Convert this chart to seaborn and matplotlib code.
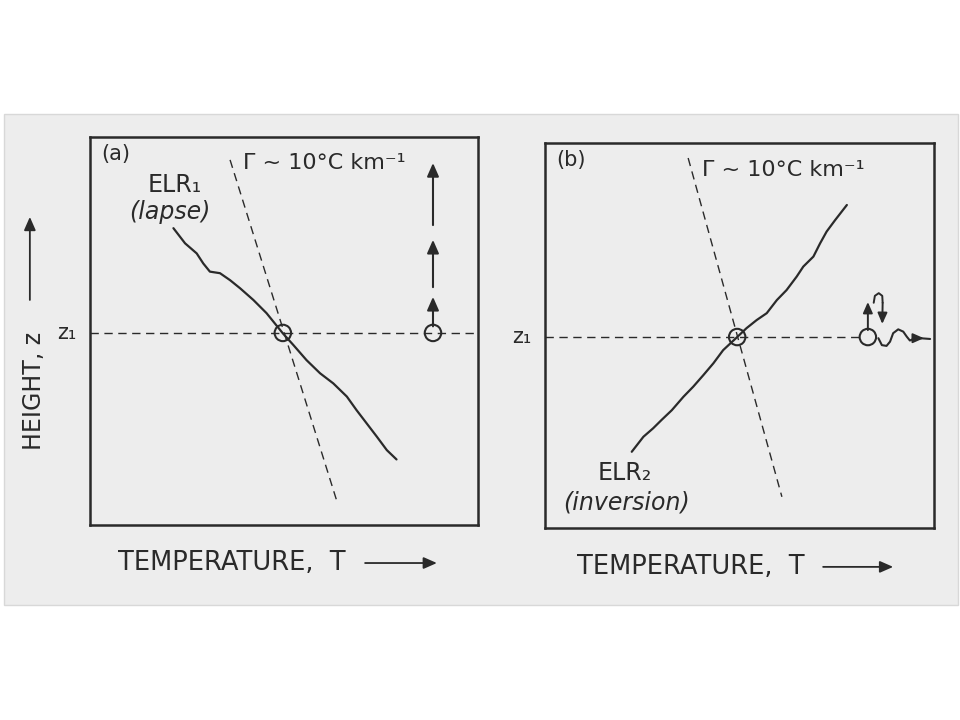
import numpy as np
import pandas as pd
import matplotlib
matplotlib.use("Agg")
import matplotlib.pyplot as plt
from matplotlib.patches import Rectangle
import seaborn as sns

# ------------------------
# Data (arbitrary units: T and z scaled 0..1 inside each box)
# ------------------------
# panel (a) : lapse profile ELR1
elr1_t = [0.215, 0.245, 0.275, 0.292, 0.309, 0.335, 0.361, 0.387, 0.421, 0.455, 0.497,
          0.524, 0.558, 0.593, 0.627, 0.662, 0.687, 0.713, 0.739, 0.765, 0.790]
elr1_z = [0.765, 0.726, 0.700, 0.674, 0.653, 0.649, 0.631, 0.610, 0.580, 0.546, 0.494,
          0.464, 0.425, 0.391, 0.365, 0.331, 0.296, 0.262, 0.228, 0.193, 0.169]
# panel (b) : inversion profile ELR2
elr2_t = [0.223, 0.253, 0.278, 0.300, 0.326, 0.356, 0.381, 0.407, 0.433, 0.458, 0.493, 0.518,
          0.544, 0.570, 0.596, 0.621, 0.647, 0.664, 0.690, 0.707, 0.724, 0.746, 0.776]
elr2_z = [0.198, 0.237, 0.259, 0.281, 0.306, 0.341, 0.367, 0.397, 0.428, 0.462, 0.495, 0.519,
          0.540, 0.558, 0.592, 0.618, 0.653, 0.679, 0.705, 0.739, 0.770, 0.800, 0.839]

# dry adiabat  (Gamma ~ 10 C/km)
adiab_a_t = [0.361, 0.637]
adiab_a_z = [0.941, 0.059]
adiab_b_t = [0.368, 0.609]
adiab_b_z = [0.961, 0.081]

z1_a = 0.495
z1_b = 0.496
parcel_a_t = [0.497, 0.884]
parcel_b_t = [0.494, 0.830]

# rising parcel in (a): accelerating arrows
rise_a_start = [0.512, 0.613, 0.773]
rise_a_end = [0.588, 0.735, 0.933]

# (b): parcel pushed up then back, oscillating
push_b = [0.514, 0.587]
hook_t = [0.845, 0.848, 0.858, 0.867, 0.868, 0.867]
hook_z = [0.585, 0.603, 0.610, 0.603, 0.585, 0.530]
wave_t = [0.857, 0.866, 0.878, 0.887, 0.895, 0.908, 0.921, 0.930, 0.938, 0.951, 0.964, 0.990]
wave_z = [0.493, 0.475, 0.473, 0.484, 0.506, 0.516, 0.510, 0.497, 0.487, 0.493, 0.493, 0.491]

gamma_txt = "Γ ~ 10°C km⁻¹"

# ------------------------
# Style
# ------------------------
sns.set_theme(style="white")
plt.rcParams["font.family"] = ["DejaVu Sans"]
ink = "#2a2a2a"
paper = "#ededed"

fig = plt.figure(figsize=(9.6, 7.2), dpi=100)
fig.patch.set_facecolor("white")
fig.patches.append(Rectangle((0.004, 1 - 605 / 720), 0.994, (605 - 114) / 720,
                             transform=fig.transFigure, facecolor=paper,
                             edgecolor="#d8d8d8", lw=1, zorder=-10))

ax_a = fig.add_axes([90 / 960, 1 - 525 / 720, 388 / 960, 388 / 720])
ax_b = fig.add_axes([545 / 960, 1 - 528 / 720, 389 / 960, 385 / 720])


def arrow(ax, x0, y0, x1, y1, lw=1.5, ms=12):
    ax.annotate("", xy=(x1, y1), xytext=(x0, y0),
                arrowprops=dict(arrowstyle="-|>,head_length=0.5,head_width=0.22",
                                color=ink, lw=lw, mutation_scale=ms,
                                shrinkA=0, shrinkB=0),
                annotation_clip=False)


def setup(ax, tag, z1, t_adiab, z_adiab, gx, gy):
    ax.set_facecolor(paper)
    ax.set_xlim(0, 1)
    ax.set_ylim(0, 1)
    ax.set_xticks([])
    ax.set_yticks([])
    for s in ax.spines.values():
        s.set_color(ink)
        s.set_linewidth(1.8)
    sns.lineplot(x=t_adiab, y=z_adiab, ax=ax, color=ink, lw=1.0,
                 linestyle=(0, (6, 4)), sort=False, estimator=None)
    ax.text(0.03, 0.955, tag, fontsize=15, color=ink, va="center", ha="left")
    ax.text(gx, gy, gamma_txt, fontsize=16, color=ink, va="center", ha="left")
    ax.text(-0.035, z1, "z₁", fontsize=15, color=ink, va="center", ha="right")


# ------------------------
# (a) lapse
# ------------------------
setup(ax_a, "(a)", z1_a, adiab_a_t, adiab_a_z, 0.394, 0.933)
ax_a.plot([0, 1], [z1_a, z1_a], color=ink, lw=1.0, dashes=(6, 4))
sns.lineplot(x=elr1_t, y=elr1_z, ax=ax_a, color=ink, lw=1.6, sort=False, estimator=None)
sns.scatterplot(x=parcel_a_t, y=[z1_a] * 2, ax=ax_a, s=140, marker="o",
                facecolor="none", edgecolor=ink, linewidth=1.5, zorder=5)
for y0, y1 in zip(rise_a_start, rise_a_end):
    arrow(ax_a, parcel_a_t[1], y0, parcel_a_t[1], y1, ms=16)
ax_a.text(0.149, 0.877, "ELR₁", fontsize=17, color=ink, va="center", ha="left")
ax_a.text(0.102, 0.806, "(lapse)", fontsize=17, color=ink, va="center", ha="left",
          style="italic")
ax_a.text(0.072, -0.098, "TEMPERATURE,  T", fontsize=18.5, color=ink, va="center", ha="left")
arrow(ax_a, 0.709, -0.098, 0.894, -0.098, lw=1.3, ms=16)
ax_a.text(-0.145, 0.345, "HEIGHT, z", fontsize=17, color=ink, va="center", ha="center",
          rotation=90)
arrow(ax_a, -0.155, 0.58, -0.155, 0.794, lw=1.3, ms=16)

# ------------------------
# (b) inversion
# ------------------------
setup(ax_b, "(b)", z1_b, adiab_b_t, adiab_b_z, 0.404, 0.930)
ax_b.plot([0, 0.815], [z1_b, z1_b], color=ink, lw=1.0, dashes=(6, 4))
sns.lineplot(x=elr2_t, y=elr2_z, ax=ax_b, color=ink, lw=1.6, sort=False, estimator=None)
sns.scatterplot(x=parcel_b_t, y=[z1_b] * 2, ax=ax_b, s=140, marker="o",
                facecolor="none", edgecolor=ink, linewidth=1.5, zorder=5)
arrow(ax_b, parcel_b_t[1], push_b[0], parcel_b_t[1], push_b[1], lw=1.4, ms=13)
sns.lineplot(x=hook_t[:-1], y=hook_z[:-1], ax=ax_b, color=ink, lw=1.4, sort=False,
             estimator=None)
arrow(ax_b, hook_t[-2], hook_z[-2], hook_t[-1], hook_z[-1], lw=1.4, ms=13)
sns.lineplot(x=wave_t, y=wave_z, ax=ax_b, color=ink, lw=1.5, sort=False, estimator=None)
arrow(ax_b, wave_t[-3], wave_z[-3], wave_t[-2] + 0.01, wave_z[-2], lw=1.4, ms=13)
ax_b.text(0.136, 0.143, "ELR₂", fontsize=17, color=ink, va="center", ha="left")
ax_b.text(0.046, 0.065, "(inversion)", fontsize=17, color=ink, va="center", ha="left",
          style="italic")
ax_b.text(0.082, -0.101, "TEMPERATURE,  T", fontsize=18.5, color=ink, va="center", ha="left")
arrow(ax_b, 0.715, -0.101, 0.895, -0.101, lw=1.3, ms=16)

for ax in (ax_a, ax_b):
    if ax.get_legend() is not None:
        ax.get_legend().remove()

fig.savefig("out.png", dpi=100, facecolor=fig.get_facecolor())
